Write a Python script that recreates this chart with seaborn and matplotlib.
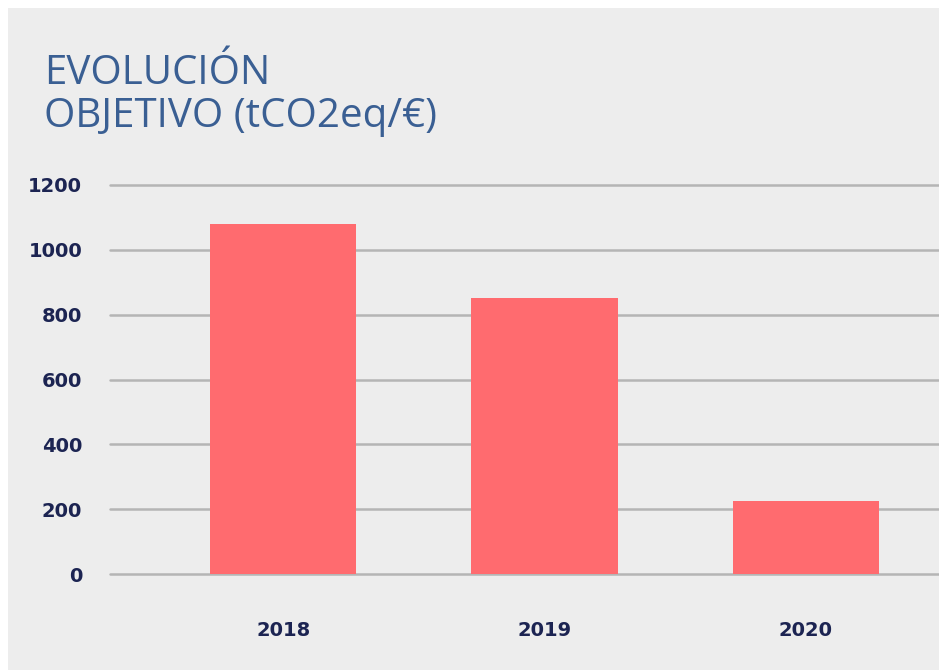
import matplotlib
matplotlib.use("Agg")
import matplotlib.pyplot as plt
import seaborn as sns
import pandas as pd
from matplotlib.patches import Rectangle

years = ["2018", "2019", "2020"]
values = [1080, 850, 225]
yticks = [0, 200, 400, 600, 800, 1000, 1200]

bg = "#ededed"
bar_color = "#ff6b6f"
navy = "#1c2452"
title_color = "#3a5f93"

sns.set_style("white")
plt.rcParams["font.family"] = ["DejaVu Sans"]

fig = plt.figure(figsize=(9.39, 6.70), dpi=100, facecolor="white")
# grey card behind the chart
fig.patches.append(Rectangle((8 / 939, 0), 1, 1 - 8 / 670, transform=fig.transFigure,
                             facecolor=bg, edgecolor="none", zorder=-10))

ax = fig.add_axes([110 / 939, 1 - 574 / 670, 1 - 110 / 939, (574 - 185) / 670])
ax.set_facecolor("none")

df = pd.DataFrame({"year": years, "value": values})
sns.barplot(data=df, x="year", y="value", color=bar_color, width=0.56,
            saturation=1, linewidth=0, ax=ax, zorder=3)

ax.set_ylim(0, 1200)
ax.set_xlim(-0.663, 2.51)
ax.set_yticks(yticks)
ax.yaxis.grid(True, color="#b5b5b5", linewidth=1.8)
for gl in ax.get_ygridlines():
    gl.set_clip_on(False)
ax.set_axisbelow(True)
for s in ax.spines.values():
    s.set_visible(False)
ax.tick_params(axis="both", length=0, labelcolor=navy, labelsize=14)
ax.tick_params(axis="y", pad=20)
ax.tick_params(axis="x", pad=34)
for lab in ax.get_xticklabels() + ax.get_yticklabels():
    lab.set_fontweight("bold")
ax.set_xlabel("")
ax.set_ylabel("")

fig.text(44 / 939, 1 - 54 / 670, "EVOLUCIÓN\nOBJETIVO (tCO2eq/€)", ha="left", va="top",
         fontsize=29, color=title_color, family=["Open Sans", "DejaVu Sans"],
         fontweight="normal", linespacing=1.05)

fig.savefig("out.png", dpi=100, facecolor="white")
